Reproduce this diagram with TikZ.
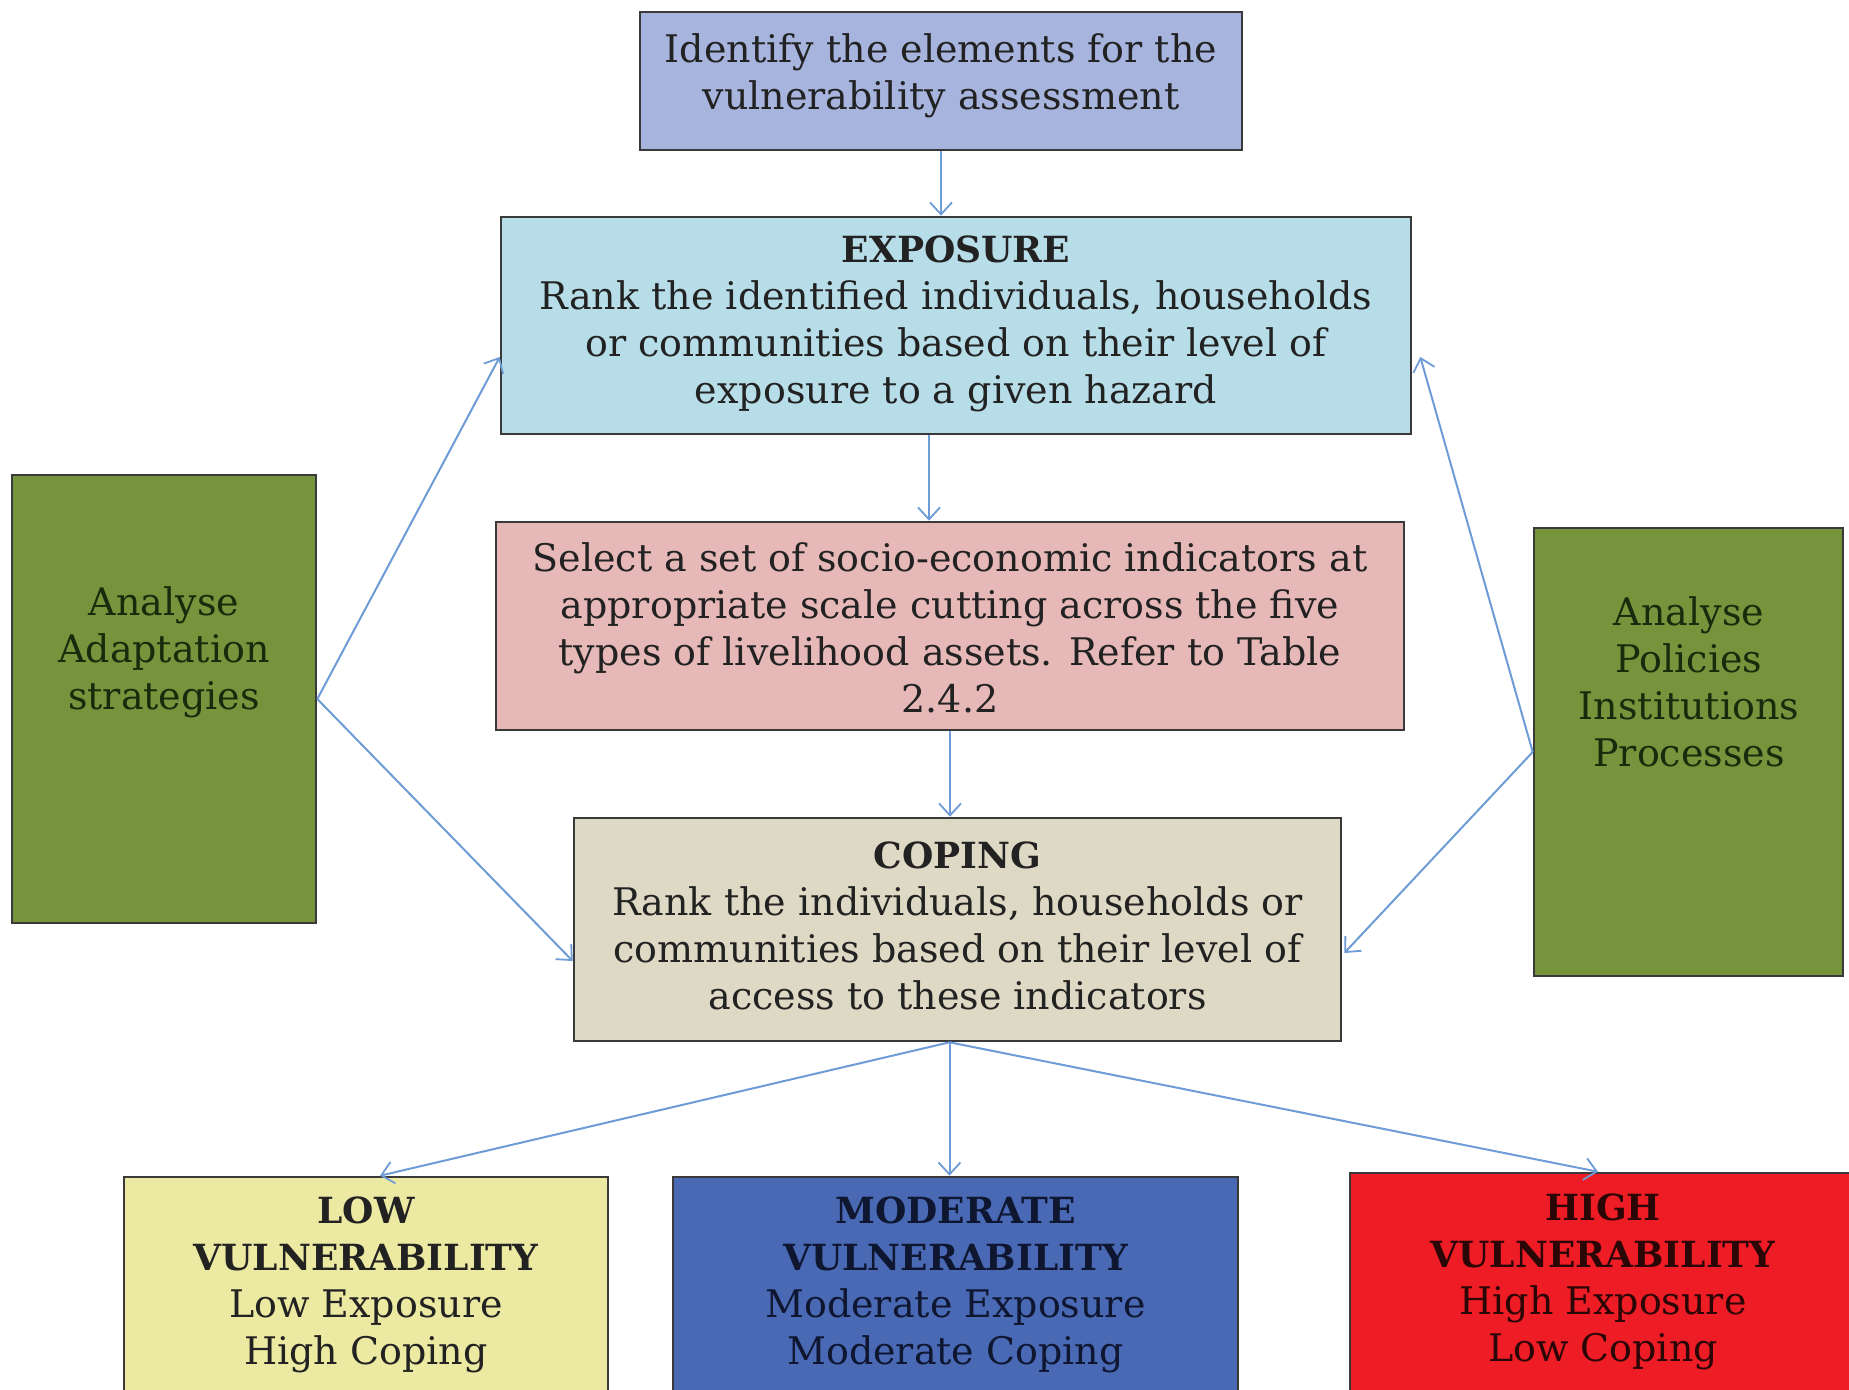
\documentclass[tikz,border=0pt]{standalone}
\usepackage{fontspec}
\setmainfont{DejaVu Serif}
\usetikzlibrary{arrows.meta,calc}
\definecolor{cTop}{HTML}{A6B4DE}
\definecolor{cExp}{HTML}{B7DDE8}
\definecolor{cSel}{HTML}{E6B8B8}
\definecolor{cCop}{HTML}{DDD9C4}
\definecolor{cGreen}{HTML}{77933C}
\definecolor{cLow}{HTML}{ECEAA2}
\definecolor{cMod}{HTML}{4A69B5}
\definecolor{cHigh}{HTML}{EE1C25}
\definecolor{cEdge}{HTML}{3A3A3A}
\definecolor{cArrow}{HTML}{6E9CD6}
\definecolor{cTxt}{HTML}{222222}
\definecolor{cGTxt}{HTML}{1A2A0C}
\definecolor{cBTxt}{HTML}{0E1630}
\definecolor{cRTxt}{HTML}{2A0606}
\newcommand{\hd}[1]{{\fontsize{18}{23.5}\selectfont\bfseries #1}}
\tikzset{
  box/.style={draw=cEdge, line width=1.3pt, rectangle, inner sep=0pt},
  txt/.style={align=center, font=\fontsize{19}{23.5}\selectfont, text=cTxt, inner sep=0pt},
  conn/.style={draw=cArrow, line width=1pt, -{Straight Barb[length=6pt,width=11pt,line width=0.9pt]}},
}
\begin{document}
\begin{tikzpicture}[x=0.5pt,y=-0.5pt]
\clip (0,0) rectangle (1849,1389);
\fill[white] (0,0) rectangle (1849,1389);
% boxes
\node[box, fill=cTop, minimum width=301pt, minimum height=69pt] (top) at (941,81) {};
\node[txt] (toptxt) at (941,76) {Identify the elements for the\\vulnerability assessment};
\node[box, fill=cExp, minimum width=455pt, minimum height=108.5pt] (exp) at (956,325.5) {};
\node[txt] (exptxt) at (956,324) {\hd{EXPOSURE}\\Rank the identified individuals, households\\or communities based on their level of\\exposure to a given hazard};
\node[box, fill=cSel, minimum width=454pt, minimum height=104pt] (sel) at (950,626) {};
\node[txt] (seltxt) at (950,628) {Select a set of socio-economic indicators at\\appropriate scale cutting across the five\\types of livelihood assets. Refer to Table\\2.4.2};
\node[box, fill=cCop, minimum width=383.5pt, minimum height=111.5pt] (cop) at (957.5,929.5) {};
\node[txt] (coptxt) at (957.5,926) {\hd{COPING}\\Rank the individuals, households or\\communities based on their level of\\access to these indicators};
\node[box, fill=cGreen, minimum width=152pt, minimum height=224pt] (lg) at (164,699) {};
\node[txt, text=cGTxt] (lgtxt) at (164,652) {Analyse\\Adaptation\\strategies};
\node[box, fill=cGreen, minimum width=154.5pt, minimum height=224pt] (rg) at (1688.5,752) {};
\node[txt, text=cGTxt] (rgtxt) at (1689,682) {Analyse\\Policies\\Institutions\\Processes};
\node[box, fill=cLow, minimum width=242pt, minimum height=130pt] (low) at (366,1307) {};
\node[txt] (lowtxt) at (366,1285) {\hd{LOW}\\\hd{VULNERABILITY}\\Low Exposure\\High Coping};
\node[box, fill=cMod, minimum width=282.5pt, minimum height=130pt] (mod) at (955.5,1307) {};
\node[txt, text=cBTxt] (modtxt) at (955.5,1285) {\hd{MODERATE}\\\hd{VULNERABILITY}\\Moderate Exposure\\Moderate Coping};
\node[box, fill=cHigh, minimum width=255pt, minimum height=132pt] (high) at (1605,1305) {};
\node[txt, text=cRTxt] (hightxt) at (1603,1282) {\hd{HIGH}\\\hd{VULNERABILITY}\\High Exposure\\Low Coping};
% connectors
\draw[conn] (top.south) -- (top.south |- exp.north);
\draw[conn] ([xshift=-13.5pt]exp.south) -- ([xshift=-13.5pt]exp.south |- sel.north);
\draw[conn] (sel.south) -- (sel.south |- cop.north);
\draw[conn] (lg.east) -- ([yshift=-15.75pt]exp.west);
\draw[conn] (lg.east) -- ([yshift=-15.75pt]cop.west);
\draw[conn] (rg.west) -- ([xshift=4pt,yshift=-15.75pt]exp.east);
\draw[conn] (rg.west) -- ([xshift=1pt,yshift=-11.75pt]cop.east);
\draw[conn] ([xshift=-4pt]cop.south) -- ([xshift=7pt]low.north);
\draw[conn] ([xshift=-4pt]cop.south) -- ([xshift=-3pt]mod.north);
\draw[conn] ([xshift=-4pt]cop.south) -- ([xshift=-3.5pt]high.north);
\end{tikzpicture}
\end{document}
